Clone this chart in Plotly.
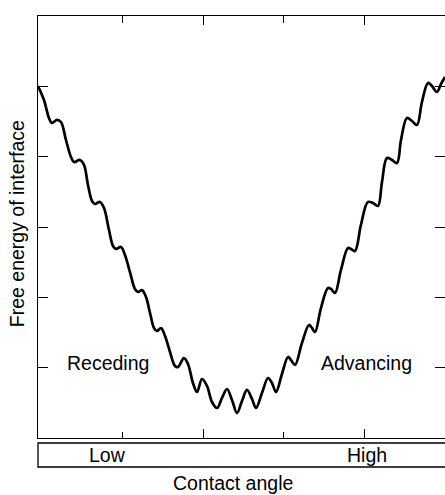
import plotly.graph_objects as go

# Contact angle (arbitrary units) and free energy (arbitrary units)
contact_angle = [-0.050, 0.024, 0.086, 0.124, 0.186, 0.235, 0.297, 0.359, 0.397, 0.471,
                 0.521, 0.570, 0.620, 0.657, 0.719, 0.769, 0.831, 0.881, 0.918, 0.980,
                 1.029, 1.091, 1.153, 1.191, 1.240, 1.290, 1.340, 1.389, 1.426, 1.476,
                 1.526, 1.588, 1.650, 1.687, 1.761, 1.811, 1.873, 1.923, 1.985, 2.047,
                 2.109, 2.171, 2.233, 2.295, 2.357, 2.419, 2.481, 2.543, 2.605, 2.655,
                 2.729, 2.804, 2.853, 2.903, 2.977, 3.052, 3.089, 3.139, 3.225, 3.312,
                 3.349, 3.387, 3.461, 3.548, 3.585, 3.635, 3.709, 3.796, 3.833, 3.883,
                 3.957, 4.044, 4.106, 4.168, 4.218, 4.280, 4.342, 4.404, 4.454, 4.528,
                 4.590, 4.652, 4.714, 4.789, 4.838, 4.900, 4.950, 5.000]
free_energy = [5.005, 4.806, 4.550, 4.479, 4.522, 4.493, 4.237, 3.995, 3.924, 3.953,
               3.882, 3.597, 3.370, 3.327, 3.356, 3.270, 2.957, 2.730, 2.687, 2.716,
               2.602, 2.360, 2.119, 2.076, 2.104, 2.005, 1.777, 1.564, 1.521, 1.564,
               1.450, 1.223, 1.024, 1.010, 1.137, 1.052, 0.782, 0.654, 0.839, 0.739,
               0.512, 0.427, 0.569, 0.697, 0.540, 0.355, 0.526, 0.683, 0.555, 0.427,
               0.640, 0.853, 0.782, 0.654, 0.910, 1.152, 1.109, 1.038, 1.351, 1.607,
               1.564, 1.507, 1.848, 2.133, 2.119, 2.062, 2.389, 2.702, 2.687, 2.659,
               3.029, 3.356, 3.341, 3.299, 3.640, 3.981, 3.953, 3.910, 4.237, 4.550,
               4.507, 4.451, 4.777, 5.048, 5.005, 4.920, 5.033, 5.133]

x_major_ticks = [2, 4]
x_minor_ticks = [1, 3]
y_ticks = [1, 2, 3, 4, 5]
x_range = [-0.05, 5.0]
y_range = [0, 6]

region_labels = ["Receding", "Advancing"]
region_x = [0.818, 4.032]
region_y = [1.066, 1.066]
scale_labels = ["Low", "High"]
scale_x = [0.818, 4.032]

FONT = "Liberation Sans, Arial, Helvetica, sans-serif"
FS = 19.5

fig = go.Figure()
fig.add_trace(go.Scatter(x=contact_angle, y=free_energy, mode="lines",
                         line=dict(color="black", width=2.7, shape="spline", smoothing=1.0),
                         hoverinfo="skip", showlegend=False))
# helper trace to register mirrored axes (top / right ticks)
fig.add_trace(go.Scatter(x=[], y=[], xaxis="x2", yaxis="y2", showlegend=False))

fig.update_layout(
    width=445, height=495,
    margin=dict(l=38, r=0, t=16, b=57),
    paper_bgcolor="white", plot_bgcolor="white",
    font=dict(family=FONT, size=FS, color="black"),
    xaxis=dict(range=x_range, showgrid=False, zeroline=False, showline=True,
               linecolor="black", linewidth=1.3, mirror=True,
               tickvals=x_major_ticks, ticks="inside", ticklen=9, tickwidth=1.3,
               tickcolor="black", showticklabels=False,
               minor=dict(tickvals=x_minor_ticks, ticks="inside", ticklen=6,
                          tickwidth=1.3, tickcolor="black", showgrid=False)),
    yaxis=dict(range=y_range, showgrid=False, zeroline=False, showline=True,
               linecolor="black", linewidth=1.3, mirror=False,
               tickvals=y_ticks, ticks="inside", ticklen=10, tickwidth=1.3,
               tickcolor="black", showticklabels=False),
    xaxis2=dict(range=x_range, overlaying="x", side="top", anchor="y",
                showgrid=False, zeroline=False, showline=False,
                tickvals=x_major_ticks, ticks="inside", ticklen=9, tickwidth=1.3,
                tickcolor="black", showticklabels=False,
                minor=dict(tickvals=x_minor_ticks, ticks="inside", ticklen=7,
                           tickwidth=1.3, tickcolor="black", showgrid=False)),
    yaxis2=dict(range=y_range, overlaying="y", side="right", anchor="x",
                showgrid=False, zeroline=False, showline=False,
                tickvals=y_ticks, ticks="inside", ticklen=10, tickwidth=1.3,
                tickcolor="black", showticklabels=False),
)

# scale box under the plot
fig.add_shape(type="rect", xref="paper", yref="paper",
              x0=0, x1=1.05, y0=-0.0687, y1=-0.0118,
              line=dict(color="black", width=1.3), fillcolor="rgba(0,0,0,0)")

for t, x, y in zip(region_labels, region_x, region_y):
    fig.add_annotation(x=x, y=y, xref="x", yref="y", text=t, showarrow=False,
                       font=dict(family=FONT, size=FS, color="black"),
                       xanchor="center", yanchor="middle")
for t, x in zip(scale_labels, scale_x):
    fig.add_annotation(x=x, y=-0.040, xref="x", yref="paper", text=t, showarrow=False,
                       font=dict(family=FONT, size=FS, color="black"),
                       xanchor="center", yanchor="middle")

fig.add_annotation(x=0.480, y=-0.107, xref="paper", yref="paper", text="Contact angle",
                   showarrow=False, font=dict(family=FONT, size=FS, color="black"),
                   xanchor="center", yanchor="middle")
fig.add_annotation(x=-0.0516, y=0.509, xref="paper", yref="paper",
                   text="Free energy of interface", textangle=-90, showarrow=False,
                   font=dict(family=FONT, size=FS, color="black"),
                   xanchor="center", yanchor="middle")

fig.write_html("out.html")
